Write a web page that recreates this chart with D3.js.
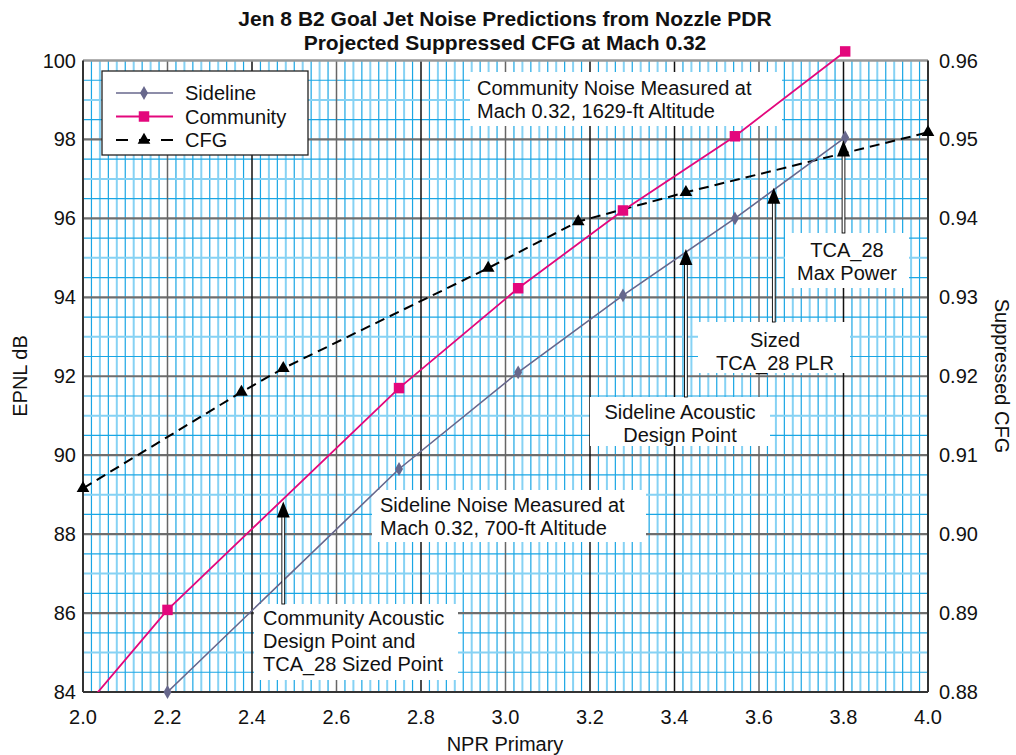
<!DOCTYPE html>
<html>
<head>
<meta charset="utf-8">
<script src="https://cdnjs.cloudflare.com/ajax/libs/d3/7.8.5/d3.min.js"></script>
<style>
  body { margin: 0; background: #fff; }
  text { font-family: "Liberation Sans", Arial, sans-serif; fill: #111; }
</style>
</head>
<body>
<svg id="chart" width="1016" height="755"></svg>
<script>
// --- data ---
var sidelineNpr = [2.20, 2.748, 3.03, 3.278, 3.543, 3.804];
var sidelineDb  = [84.0, 89.65, 92.1, 94.05, 96.0, 98.05];

// first community point lies below the axis and is clipped
var communityNpr = [2.0, 2.20, 2.748, 3.03, 3.278, 3.543, 3.804];
var communityDb  = [83.55, 86.08, 91.7, 94.23, 96.2, 98.08, 100.23];

var cfgNpr = [2.0, 2.375, 2.474, 2.959, 3.172, 3.427, 4.0];
var cfgVal = [0.9058, 0.918, 0.921, 0.9337, 0.9396, 0.9433, 0.9509];

var xTicks  = [2.0, 2.2, 2.4, 2.6, 2.8, 3.0, 3.2, 3.4, 3.6, 3.8, 4.0];
var yTicks  = [84, 86, 88, 90, 92, 94, 96, 98, 100];
var y2Ticks = [0.88, 0.89, 0.90, 0.91, 0.92, 0.93, 0.94, 0.95, 0.96];

var titleLines = ['Jen 8 B2 Goal Jet Noise Predictions from Nozzle PDR',
                  'Projected Suppressed CFG at Mach 0.32'];

var legendNames = ['Sideline', 'Community', 'CFG'];

var colors = { sideline: '#67678c', community: '#e3077c', cfg: '#000' };

var svg = d3.select('#chart'),
    plotL = 83, plotR = 928, plotT = 60.5, plotB = 692;

var x  = d3.scaleLinear().domain([2.0, 4.0]).range([plotL, plotR]),
    y  = d3.scaleLinear().domain([84, 100]).range([plotB, plotT]),
    y2 = d3.scaleLinear().domain([0.88, 0.96]).range([plotB, plotT]);

// --- graph paper grid ---
var grid = svg.append('g').attr('class', 'grid');

grid.append('rect')
    .attr('x', plotL).attr('y', plotT)
    .attr('width', plotR - plotL).attr('height', plotB - plotT)
    .attr('fill', '#fff');

d3.range(1, 100).forEach(function(i){
  if (i % 10 === 0) return;
  var xv = x(2 + i * 0.02);
  grid.append('line')
      .attr('x1', xv).attr('x2', xv).attr('y1', plotT).attr('y2', plotB)
      .attr('stroke', i % 2 ? '#1aa6e4' : '#86d2f4')
      .attr('stroke-width', i % 2 ? 1.2 : 2);
});

d3.range(1, 32).forEach(function(j){
  if (j % 4 === 0) return;
  var yv = y(84 + j * 0.5);
  grid.append('line')
      .attr('x1', plotL).attr('x2', plotR).attr('y1', yv).attr('y2', yv)
      .attr('stroke', j % 2 ? '#1aa6e4' : '#86d2f4')
      .attr('stroke-width', j % 2 ? 1.2 : 2);
});

yTicks.slice(1, -1).forEach(function(d){
  grid.append('line')
      .attr('x1', plotL).attr('x2', plotR).attr('y1', y(d)).attr('y2', y(d))
      .attr('stroke', '#6e6e6e').attr('stroke-width', 2.2);
});

xTicks.slice(1, -1).forEach(function(d){
  var dark = [2.4, 2.8, 3.2, 3.4, 3.8].indexOf(d) >= 0;
  grid.append('line')
      .attr('x1', x(d)).attr('x2', x(d)).attr('y1', plotT).attr('y2', plotB)
      .attr('stroke', dark ? '#111' : '#666').attr('stroke-width', 1.5);
});

// frame
grid.append('line').attr('x1', plotL).attr('x2', plotR).attr('y1', plotT).attr('y2', plotT)
    .attr('stroke', '#999').attr('stroke-width', 2.5);
grid.append('line').attr('x1', plotL).attr('x2', plotR).attr('y1', plotB).attr('y2', plotB)
    .attr('stroke', '#333').attr('stroke-width', 2);
grid.append('line').attr('x1', plotL).attr('x2', plotL).attr('y1', plotT).attr('y2', plotB)
    .attr('stroke', '#333').attr('stroke-width', 2);
grid.append('line').attr('x1', plotR).attr('x2', plotR).attr('y1', plotT).attr('y2', plotB)
    .attr('stroke', '#333').attr('stroke-width', 2);

// --- tick labels ---
svg.append('g').selectAll('text').data(yTicks).join('text')
   .attr('x', 76).attr('y', function(d){ return y(d) + 7; })
   .attr('text-anchor', 'end').attr('font-size', 20)
   .text(function(d){ return d; });

svg.append('g').selectAll('text').data(y2Ticks).join('text')
   .attr('x', 939).attr('y', function(d){ return y2(d) + 7; })
   .attr('font-size', 20)
   .text(function(d){ return d.toFixed(2); });

svg.append('g').selectAll('text').data(xTicks).join('text')
   .attr('x', function(d){ return x(d); }).attr('y', 724)
   .attr('text-anchor', 'middle').attr('font-size', 20)
   .text(function(d){ return d.toFixed(1); });

// axis titles
svg.append('text').text('NPR Primary')
   .attr('x', 505).attr('y', 751).attr('text-anchor', 'middle').attr('font-size', 20);
svg.append('text').text('EPNL dB')
   .attr('transform', 'translate(27, 376) rotate(-90)')
   .attr('text-anchor', 'middle').attr('font-size', 20);
svg.append('text').text('Suppressed CFG')
   .attr('transform', 'translate(995, 376) rotate(90)')
   .attr('text-anchor', 'middle').attr('font-size', 20);

// title
svg.append('g').selectAll('text').data(titleLines).join('text')
   .attr('x', 505).attr('y', function(d, i){ return 26 + i * 24; })
   .attr('text-anchor', 'middle').attr('font-size', 21).attr('font-weight', 'bold')
   .text(function(d){ return d; });

// --- annotation boxes ---
var notes = [
  { lines: ['Community Noise Measured at', 'Mach 0.32, 1629-ft Altitude'], x: 477, y: 95, anchor: 'start', box: [470, 72, 312, 54] },
  { lines: ['Sideline Noise Measured at', 'Mach 0.32, 700-ft Altitude'], x: 380, y: 512, anchor: 'start', box: [372, 490, 274, 52] },
  { lines: ['Community Acoustic', 'Design Point and', 'TCA_28 Sized Point'], x: 263, y: 625, anchor: 'start', box: [254, 604, 204, 76] },
  { lines: ['Sideline Acoustic', 'Design Point'], x: 680, y: 419, anchor: 'middle', box: [590, 397, 180, 49] },
  { lines: ['Sized', 'TCA_28 PLR'], x: 775, y: 347, anchor: 'middle', box: [698, 322, 152, 51] },
  { lines: ['TCA_28', 'Max Power'], x: 847, y: 257, anchor: 'middle', box: [785, 233, 124, 55] }
];

var arrows = [
  { npr: 2.474, db: 88.85, tail: 604 },
  { npr: 3.427, db: 95.25, tail: 397 },
  { npr: 3.635, db: 96.8,  tail: 322 },
  { npr: 3.80,  db: 98.0,  tail: 233 }
];

var noteG = svg.append('g').attr('class', 'notes');
notes.forEach(function(n){
  noteG.append('rect')
       .attr('x', n.box[0]).attr('y', n.box[1])
       .attr('width', n.box[2]).attr('height', n.box[3])
       .attr('fill', '#fff');
  n.lines.forEach(function(t, i){
    noteG.append('text').text(t)
         .attr('x', n.x).attr('y', n.y + i * 23)
         .attr('text-anchor', n.anchor).attr('font-size', 20);
  });
});

// --- series ---
var clip = svg.append('clipPath').attr('id', 'plot-clip');
clip.append('rect').attr('x', plotL).attr('y', 0)
    .attr('width', plotR - plotL).attr('height', plotB);

var lineDb = d3.line()
    .x(function(d){ return x(d[0]); })
    .y(function(d){ return y(d[1]); });
var lineCfg = d3.line()
    .x(function(d){ return x(d[0]); })
    .y(function(d){ return y2(d[1]); });

var sideline  = d3.zip(sidelineNpr, sidelineDb),
    community = d3.zip(communityNpr, communityDb),
    cfg       = d3.zip(cfgNpr, cfgVal);

svg.append('path').datum(cfg)
   .attr('d', lineCfg).attr('fill', 'none')
   .attr('stroke', colors.cfg).attr('stroke-width', 2)
   .attr('stroke-dasharray', '10,6')
   .attr('clip-path', 'url(#plot-clip)');

svg.append('path').datum(sideline)
   .attr('d', lineDb).attr('fill', 'none')
   .attr('stroke', colors.sideline).attr('stroke-width', 1.6)
   .attr('clip-path', 'url(#plot-clip)');

svg.append('path').datum(community)
   .attr('d', lineDb).attr('fill', 'none')
   .attr('stroke', colors.community).attr('stroke-width', 1.8)
   .attr('clip-path', 'url(#plot-clip)');

var diamond  = d3.symbol().type(d3.symbolDiamond).size(55),
    square   = d3.symbol().type(d3.symbolSquare).size(110),
    triangle = d3.symbol().type(d3.symbolTriangle).size(70);

svg.append('g').selectAll('path').data(cfg).join('path')
   .attr('d', triangle)
   .attr('transform', function(d){ return 'translate(' + x(d[0]) + ',' + y2(d[1]) + ')'; })
   .attr('fill', colors.cfg);

svg.append('g').selectAll('path').data(sideline).join('path')
   .attr('d', diamond)
   .attr('transform', function(d){ return 'translate(' + x(d[0]) + ',' + y(d[1]) + ')'; })
   .attr('fill', colors.sideline);

svg.append('g').selectAll('path')
   .data(community.filter(function(d){ return d[1] >= 84; })).join('path')
   .attr('d', square)
   .attr('transform', function(d){ return 'translate(' + x(d[0]) + ',' + y(d[1]) + ')'; })
   .attr('fill', colors.community);

// --- annotation arrows ---
var arrowG = svg.append('g').attr('class', 'arrows');
arrows.forEach(function(a){
  var ax = x(a.npr), tip = y(a.db) + 1;
  arrowG.append('rect')
        .attr('x', ax - 1.4).attr('y', tip + 12)
        .attr('width', 2.8).attr('height', a.tail - tip - 12)
        .attr('fill', '#fff').attr('stroke', '#000').attr('stroke-width', 0.9);
  arrowG.append('path')
        .attr('d', 'M' + ax + ',' + tip + 'L' + (ax + 6.5) + ',' + (tip + 16) +
                   'L' + (ax - 6.5) + ',' + (tip + 16) + 'Z')
        .attr('fill', '#000');
});

// --- legend ---
var legend = svg.append('g').attr('class', 'legend');
legend.append('rect')
      .attr('x', 102).attr('y', 71).attr('width', 206).attr('height', 84)
      .attr('fill', '#fff').attr('stroke', '#222').attr('stroke-width', 1.3);

var legendMarks = [diamond, square, triangle],
    legendColors = [colors.sideline, colors.community, colors.cfg];

legendNames.forEach(function(name, i){
  var ly = 93 + i * 23.5;
  if (i < 2) {
    legend.append('line')
          .attr('x1', 116).attr('x2', 173).attr('y1', ly).attr('y2', ly)
          .attr('stroke', legendColors[i]).attr('stroke-width', i ? 1.8 : 1.6);
  } else {
    legend.append('line')
          .attr('x1', 116).attr('x2', 173).attr('y1', ly).attr('y2', ly)
          .attr('stroke', '#000').attr('stroke-width', 2)
          .attr('stroke-dasharray', '12,11,11,11,12');
  }
  legend.append('path')
        .attr('d', legendMarks[i])
        .attr('transform', 'translate(144,' + ly + ')')
        .attr('fill', legendColors[i]);
  legend.append('text').text(name)
        .attr('x', 185).attr('y', ly + 7).attr('font-size', 20);
});
</script>
</body>
</html>
